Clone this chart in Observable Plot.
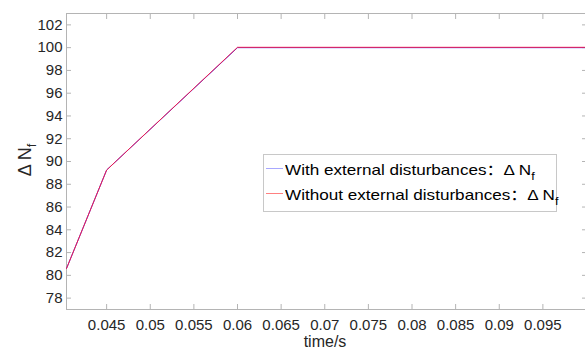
<!DOCTYPE html>
<html><head><meta charset="utf-8">
<script src="https://cdn.jsdelivr.net/npm/d3@7"></script>
<script src="https://cdn.jsdelivr.net/npm/@observablehq/plot@0.6"></script>
<style>
body{margin:0;background:#fff;}
#wrap{position:relative;width:585px;height:354px;font-family:"Liberation Sans","Noto Sans CJK SC",Arial,sans-serif;color:#262626;overflow:hidden;}
#ylab{position:absolute;left:25px;top:160px;transform:translate(-50%,-50%) rotate(-90deg);font-size:18px;white-space:nowrap;}
#xlab{position:absolute;left:325px;top:342px;transform:translate(-50%,-50%);font-size:16px;white-space:nowrap;}
#legend{position:absolute;left:263px;top:154px;width:294px;height:58px;border:1px solid #c8c8c8;background:#fff;box-sizing:border-box;font-size:15px;color:#000;}
.row{position:absolute;left:0;height:20px;display:flex;align-items:center;white-space:nowrap;}
.sw{display:inline-block;width:17px;height:0;border-top:1px solid;margin-left:2px;margin-right:2px;}
.tx{display:inline-block;transform:scaleX(1.14);transform-origin:left center;}
sub{font-size:11px;vertical-align:-5px;line-height:0;}
#ylab sub{font-size:13px;vertical-align:-5px;}
</style></head><body><div id="wrap"></div>
<script>
const time = [0.0404, 0.045, 0.06, 0.1];
const nfWith = [80.6, 89.25, 100, 100];
const nfWithout = [80.6, 89.25, 100.03, 100.03];
const xTicks = [0.045, 0.05, 0.055, 0.06, 0.065, 0.07, 0.075, 0.08, 0.085, 0.09, 0.095];
const yTicks = [78, 80, 82, 84, 86, 88, 90, 92, 94, 96, 98, 100, 102];
const seriesNames = ["With external disturbances：Δ N", "Without external disturbances：Δ N"];
const seriesColors = ["#3030ff", "#ff1a3c"];
const legendColors = ["#a8a8ff", "#ff8080"];

const withData = time.map((t, i) => ({t, v: nfWith[i]}));
const withoutData = time.map((t, i) => ({t, v: nfWithout[i]}));
const fmt = d => String(+d.toFixed(3));
const gray = "#b4b4b4";

const chart = Plot.plot({
  width: 585, height: 354,
  marginLeft: 66, marginRight: -1, marginTop: 13, marginBottom: 45,
  style: {fontFamily: "Liberation Sans, Arial, sans-serif", fontSize: "15px", color: "#262626", background: "#fff"},
  x: {domain: [0.0404, 0.1]},
  y: {domain: [77, 103]},
  marks: [
    Plot.frame({stroke: gray}),
    Plot.axisX(xTicks, {anchor: "bottom", tickSize: 0, tickPadding: 10, tickFormat: fmt, label: null, fill: "#262626"}),
    Plot.axisX(xTicks, {anchor: "bottom", tickSize: -5, tickFormat: () => "", label: null, stroke: gray}),
    Plot.axisX(xTicks, {anchor: "top", tickSize: -5, tickFormat: () => "", label: null, stroke: gray}),
    Plot.axisY(yTicks, {anchor: "left", tickSize: 0, tickPadding: 4, label: null, fill: "#262626"}),
    Plot.axisY(yTicks, {anchor: "left", tickSize: -5, tickFormat: () => "", label: null, stroke: gray}),
    Plot.axisY(yTicks, {anchor: "right", tickSize: -5, tickFormat: () => "", label: null, stroke: gray}),
    Plot.line(withData, {x: "t", y: "v", stroke: seriesColors[0], strokeWidth: 1}),
    Plot.line(withoutData, {x: "t", y: "v", stroke: seriesColors[1], strokeWidth: 1, strokeOpacity: 0.92})
  ]
});
const wrap = document.getElementById("wrap");
wrap.appendChild(chart);

const ylab = document.createElement("div");
ylab.id = "ylab"; ylab.innerHTML = "Δ N<sub>f</sub>";
wrap.appendChild(ylab);
const xlab = document.createElement("div");
xlab.id = "xlab"; xlab.textContent = "time/s";
wrap.appendChild(xlab);

const legend = document.createElement("div");
legend.id = "legend";
seriesNames.forEach((name, i) => {
  const row = document.createElement("div");
  row.className = "row";
  row.style.top = (3 + i * 25) + "px";
  const sw = document.createElement("span");
  sw.className = "sw"; sw.style.borderColor = legendColors[i];
  const tx = document.createElement("span");
  tx.className = "tx";
  tx.innerHTML = name + "<sub>f</sub>";
  row.appendChild(sw); row.appendChild(tx);
  legend.appendChild(row);
});
wrap.appendChild(legend);
</script></body></html>
